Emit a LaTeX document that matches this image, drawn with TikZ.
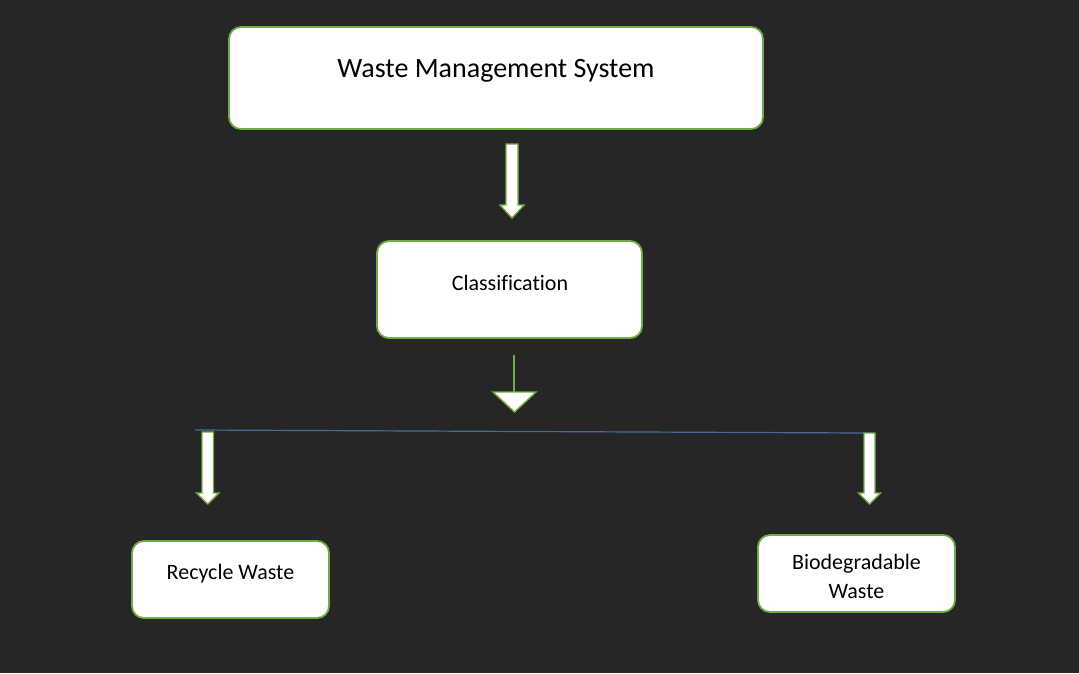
\documentclass[tikz,border=0pt]{standalone}
\usepackage{fontspec}
\setmainfont[Ligatures=NoCommon]{Carlito}
\begin{document}
\begin{tikzpicture}[x=1pt,y=-1pt,
  box/.style={draw=grn,line width=1.8pt,fill=white,rounded corners=12pt,inner sep=0pt},
  lbl/.style={text=black,inner sep=0pt,align=center},
  blockarrow/.style={draw=grn,line width=1.4pt,fill=white,line join=miter},
  stem/.style={draw=grn,line width=1.2pt}]
\definecolor{bg}{HTML}{262626}
\definecolor{grn}{HTML}{70AD47}
\definecolor{bln}{HTML}{4A6A9E}
\fill[bg] (0,0) rectangle (1079,673);
\useasboundingbox (0,0) rectangle (1079,673);
% boxes
\node[box,minimum width=534pt,minimum height=102pt] (wms) at (496,78) {};
\node[box,minimum width=265pt,minimum height=97pt] (cls) at (509.5,289.5) {};
\node[box,minimum width=197pt,minimum height=77pt] (rec) at (230.5,579.5) {};
\node[box,minimum width=197pt,minimum height=77pt] (bio) at (856.5,573.5) {};
% labels
\node[lbl,font=\fontsize{28}{32}\selectfont] (twms) at (496,71) {Waste Management System};
\node[lbl,font=\fontsize{22}{26}\selectfont] (tcls) at (510,283) {Classification};
\node[lbl,font=\fontsize{22}{26}\selectfont] (trec) at (230.5,574) {Recycle Waste};
\node[lbl,font=\fontsize{22}{29}\selectfont] (tbio) at (856.5,576) {Biodegradable\\Waste};
% block arrow 1
\draw[blockarrow] (506,144) -- (518,144) -- (518,205) -- (524,205) -- (512,218) -- (500,205) -- (506,205) -- cycle;
% middle stem and triangle
\coordinate (stemtop) at (514,355);
\coordinate (stembot) at (514,392);
\draw[stem] (stemtop) -- (stembot);
\draw[blockarrow] (493,392) -- (536,392) -- (514.5,412) -- cycle;
% blue bar
\coordinate (barl) at (195,430);
\coordinate (barr) at (864,433);
\draw[bln,line width=1.2pt] (barl) -- (barr);
% left block arrow
\draw[blockarrow] (202,432) -- (213.5,432) -- (213.5,493) -- (219,493) -- (207.75,504) -- (196.5,493) -- (202,493) -- cycle;
% right block arrow
\draw[blockarrow] (864,433) -- (875,433) -- (875,493) -- (880.5,493) -- (869.5,504) -- (858.5,493) -- (864,493) -- cycle;
\end{tikzpicture}
\end{document}
